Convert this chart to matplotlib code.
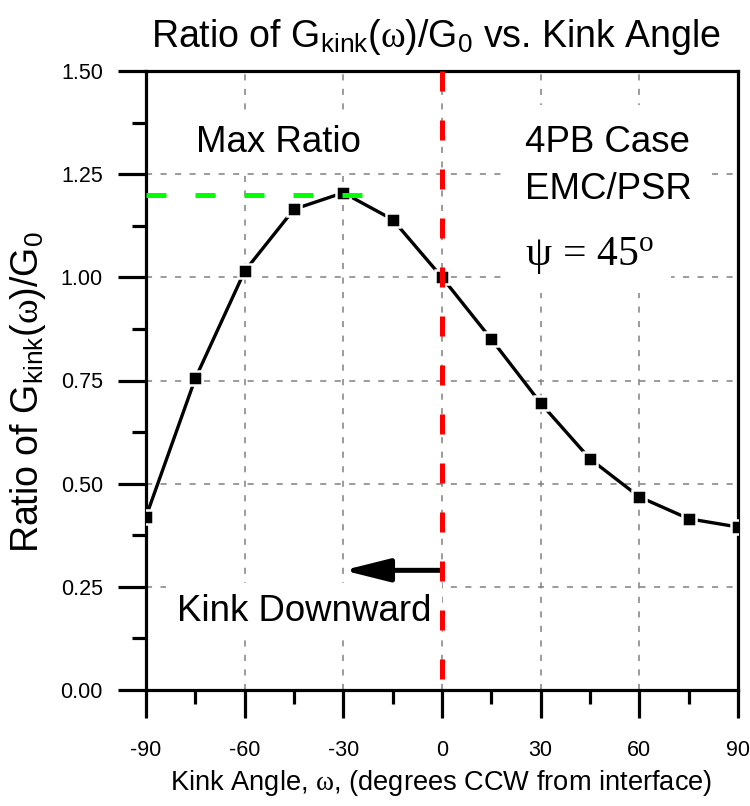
import matplotlib
matplotlib.use("Agg")
import matplotlib.pyplot as plt

# ---------------- data ----------------
kink_angle = [-90, -75, -60, -45, -30, -15, 0, 15, 30, 45, 60, 75, 90]
g_ratio = [0.42, 0.755, 1.015, 1.165, 1.205, 1.14, 1.00, 0.85, 0.695, 0.56, 0.468, 0.415, 0.395]
max_ratio_x = [-90, -23]
max_ratio_y = [1.20, 1.20]
interface_x = [0, 0]
interface_y = [1.5, 0.0]
arrow_from = (0, 0.29)
arrow_to = (-30, 0.29)
x_ticks = [-90, -60, -30, 0, 30, 60, 90]
x_tick_labels = ["-90", "-60", "-30", "0", "30", "60", "90"]
y_ticks = [0.00, 0.25, 0.50, 0.75, 1.00, 1.25, 1.50]
y_tick_labels = ["0.00", "0.25", "0.50", "0.75", "1.00", "1.25", "1.50"]

plt.rcParams["font.family"] = ["Liberation Sans", "DejaVu Sans"]
plt.rcParams["mathtext.fontset"] = "custom"
plt.rcParams["mathtext.rm"] = "Liberation Serif"
plt.rcParams["mathtext.it"] = "Liberation Serif:italic"
plt.rcParams["mathtext.sf"] = "Liberation Sans"
plt.rcParams["axes.unicode_minus"] = False

fig = plt.figure(figsize=(7.5, 8.06), dpi=100)
ax = fig.add_axes([146 / 750, 116 / 806, 592 / 750, 619 / 806])

ax.set_xlim(-90, 90)
ax.set_ylim(0, 1.5)
ax.set_xticks(x_ticks)
ax.set_xticklabels(x_tick_labels)
ax.set_xticks(range(-75, 90, 30), minor=True)
ax.set_yticks(y_ticks)
ax.set_yticklabels(y_tick_labels)
ax.set_yticks([0.125, 0.375, 0.625, 0.875, 1.125, 1.375], minor=True)

for s in ax.spines.values():
    s.set_linewidth(2.3)
ax.tick_params(which="major", direction="out", length=20, width=2.3,
               labelsize=15.5, top=False, right=False)
ax.tick_params(which="minor", direction="out", length=10, width=2.3,
               top=False, right=False)
ax.tick_params(axis="y", which="major", pad=11)
ax.tick_params(axis="x", which="major", pad=16)

ax.grid(True, which="major", color="#808080", linewidth=1.1,
        linestyle=(0, (4, 5.5)), zorder=0)
ax.set_axisbelow(True)

# data curve
ax.plot(kink_angle, g_ratio, color="black", linewidth=2.4, marker="s",
        markersize=9.5, markerfacecolor="black", markeredgecolor="white",
        markeredgewidth=1.8, zorder=4)

# max ratio line (green) and interface line (red)
ax.plot(max_ratio_x, max_ratio_y, color="#00ff00", linewidth=3.6,
        linestyle=(0, (4, 5.8)), zorder=5, dash_capstyle="butt")
ax.plot(interface_x, interface_y, color="#ff0000", linewidth=3.6,
        linestyle=(0, (4, 5.8)), zorder=6, clip_on=False,
        dash_capstyle="butt")

# arrow
ax.annotate("", xy=arrow_to, xytext=arrow_from,
            arrowprops=dict(arrowstyle="-|>,head_length=2.8,head_width=0.7",
                            lw=3.6, color="black", shrinkA=0, shrinkB=0),
            zorder=5)

# annotations
ann = 26.4
ax.text(-74.8, 1.304, "Max Ratio", fontsize=ann, ha="left", va="baseline",
        bbox=dict(facecolor="white", edgecolor="none", pad=7), zorder=3)
ax.text(25.2, 1.304, "4PB Case", fontsize=ann, ha="left", va="baseline",
        bbox=dict(facecolor="white", edgecolor="none", pad=14), zorder=3)
ax.text(25.2, 1.19, "EMC/PSR", fontsize=ann, ha="left", va="baseline",
        bbox=dict(facecolor="white", edgecolor="none", pad=14), zorder=3)
ax.text(25.2, 1.03, r"$\mathrm{\psi\,=\,45^{o}}$", fontsize=30, ha="left",
        va="baseline",
        bbox=dict(facecolor="white", edgecolor="none", pad=12), zorder=3)
ax.text(-80.6, 0.167, "Kink Downward", fontsize=ann, ha="left", va="baseline",
        bbox=dict(facecolor="white", edgecolor="none", pad=8), zorder=3)

# labels
fig.text(436 / 750, 1 - 47 / 806,
         r"Ratio of G$_{\mathsf{kink}}$($\mathrm{\omega}$)/G$_{\mathsf{0}}$ vs. Kink Angle",
         fontsize=27, ha="center", va="baseline")
fig.text(441 / 750, 1 - 783 / 806,
         r"Kink Angle, $\mathrm{\omega}$, (degrees CCW from interface)",
         fontsize=19.6, ha="center", va="center")
fig.text(28 / 750, 1 - 392 / 806,
         r"Ratio of G$_{\mathsf{kink}}$($\mathrm{\omega}$)/G$_{\mathsf{0}}$",
         fontsize=27, ha="center", va="center", rotation=90)

fig.savefig("out.png", dpi=100)
